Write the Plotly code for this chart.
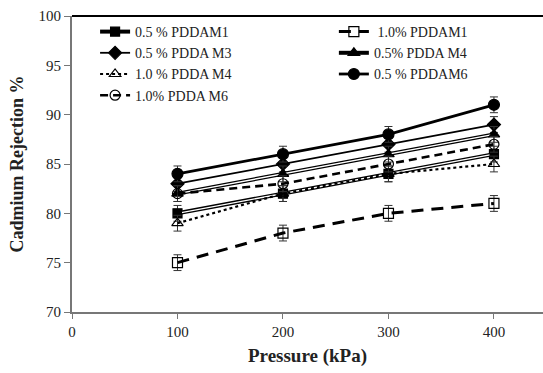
import plotly.graph_objects as go

pressure = [100, 200, 300, 400]
m1_05 = [80, 82, 84, 86]
m1_10 = [75, 78, 80, 81]
m3_05 = [83, 85, 87, 89]
m4_05 = [82, 84, 86, 88]
m4_10 = [79, 82, 84, 85]
m6_05 = [84, 86, 88, 91]
m6_10 = [82, 83, 85, 87]
err = [0.8, 0.8, 0.8, 0.8]

names = ["0.5 % PDDAM1", " 1.0% PDDAM1", "0.5 % PDDA M3", "0.5% PDDA M4",
         "1.0 % PDDA M4", "0.5 % PDDAM6", "1.0% PDDA M6"]

fig = go.Figure()
eb = dict(type="data", array=err, visible=True, color="#333333", thickness=1, width=4)

def add(y, name, dash, lw, sym, size, leg, double=False):
    fig.add_trace(go.Scatter(
        x=pressure, y=y, name=name, mode="lines+markers", legend=leg,
        line=dict(color="black", width=lw, dash=dash),
        marker=dict(symbol=sym, size=size, color="black",
                    line=dict(color="black", width=1.2)),
        error_y=eb))
    if double:
        fig.add_trace(go.Scatter(
            x=pressure, y=y, mode="lines", showlegend=False, hoverinfo="skip",
            line=dict(color="white", width=1.4)))
        fig.add_trace(go.Scatter(
            x=pressure, y=y, mode="markers", showlegend=False, hoverinfo="skip",
            marker=dict(symbol=sym, size=size, color="black")))

add(m1_05, names[0], "solid", 4, "square", 9, "legend", double=True)
add(m1_10, names[1], "12px,8px", 3, "square-open", 10, "legend2")
add(m3_05, names[2], "solid", 1.8, "diamond", 10, "legend")
add(m4_05, names[3], "solid", 4, "triangle-up", 10, "legend2", double=True)
add(m4_10, names[4], "dot", 2.2, "triangle-up-open", 10, "legend")
add(m6_05, names[5], "solid", 2.8, "circle", 11, "legend2")
add(m6_10, names[6], "8px,5px", 2.6, "circle-open", 10, "legend")

legfont = dict(family="Liberation Serif", size=14, color="#222222")
fig.update_layout(
    width=543, height=373,
    margin=dict(l=72, r=0, t=16, b=61),
    paper_bgcolor="white", plot_bgcolor="white",
    font=dict(family="Liberation Serif", size=15, color="#222222"),
    showlegend=True,
    legend=dict(x=0.049, y=1.0, xanchor="left", yanchor="top", font=legfont,
                bgcolor="rgba(255,255,255,0)", tracegroupgap=0),
    legend2=dict(x=0.556, y=1.0, xanchor="left", yanchor="top", font=legfont,
                 bgcolor="rgba(255,255,255,0)", tracegroupgap=0),
    xaxis=dict(range=[0, 446.5], tickvals=[0, 100, 200, 300, 400],
               showgrid=False, zeroline=False, showline=True, linecolor="#777777",
               linewidth=2, ticks="outside", ticklen=5, tickcolor="#777777",
               tickfont=dict(size=15),
               title=dict(text="<b>Pressure (kPa)</b>", font=dict(size=19), standoff=10)),
    yaxis=dict(range=[70, 100], tickvals=[70, 75, 80, 85, 90, 95, 100],
               showgrid=False, zeroline=False, showline=True, linecolor="#777777",
               linewidth=2, ticks="outside", ticklen=6, tickcolor="#777777",
               tickfont=dict(size=15),
               title=dict(text="<b>Cadmium Rejection %</b>", font=dict(size=18), standoff=10)),
    shapes=[dict(type="line", xref="paper", yref="paper", x0=0, x1=1, y0=1, y1=1,
                 line=dict(color="black", width=2))],
)

fig.write_html("out.html")
